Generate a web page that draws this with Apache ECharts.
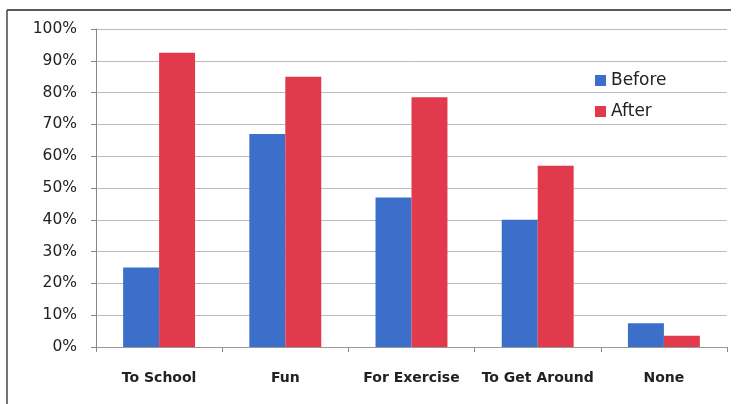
<!DOCTYPE html>
<html><head><meta charset="utf-8">
<script src="https://cdn.jsdelivr.net/npm/echarts@6/dist/echarts.min.js"></script>
<style>html,body{margin:0;padding:0;background:#fff}#c{width:736px;height:404px}</style>
</head><body><div id="c"></div>
<script>
const categories = ["To School", "Fun", "For Exercise", "To Get Around", "None"];
const before = [25, 67, 47, 40, 7.5];
const after = [92.5, 85, 78.5, 57, 3.5];
const yTicks = [0, 10, 20, 30, 40, 50, 60, 70, 80, 90, 100];

const chart = echarts.init(document.getElementById('c'));
chart.setOption({
  animation: false,
  graphic: [
    { type: 'line', shape: { x1: 7, y1: 10, x2: 731, y2: 10 }, style: { stroke: '#222', lineWidth: 1.5 } },
    { type: 'line', shape: { x1: 7, y1: 10, x2: 7, y2: 404 }, style: { stroke: '#444', lineWidth: 1.5 } }
  ],
  grid: { left: 96, right: 9, top: 29, bottom: 57 },
  legend: {
    orient: 'vertical', left: 590, top: 67, itemGap: 14,
    itemWidth: 11, itemHeight: 11, icon: 'rect',
    textStyle: { fontFamily: 'DejaVu Sans', fontSize: 17, color: '#222' },
    data: ['Before', 'After']
  },
  xAxis: {
    type: 'category', data: categories,
    axisLine: { lineStyle: { color: '#999' } },
    axisTick: { show: true, interval: 0, lineStyle: { color: '#888' } },
    axisLabel: { interval: 0, hideOverlap: false, fontFamily: 'DejaVu Sans', fontWeight: 'bold', fontSize: 14, color: '#222', margin: 24 }
  },
  yAxis: {
    type: 'value', min: 0, max: 100, interval: 10,
    axisLine: { show: true, lineStyle: { color: '#888' } },
    axisTick: { show: true, lineStyle: { color: '#888' } },
    splitLine: { lineStyle: { color: '#bbb' } },
    axisLabel: {
      fontFamily: 'DejaVu Sans', fontSize: 15.5, color: '#222', margin: 19,
      formatter: v => yTicks.includes(v) ? v + '%' : ''
    }
  },
  series: [
    { name: 'Before', type: 'bar', data: before, barGap: '0%', barCategoryGap: '43%', itemStyle: { color: '#3b6fc9' } },
    { name: 'After', type: 'bar', data: after, barGap: '0%', barCategoryGap: '43%', itemStyle: { color: '#e03a4c' } }
  ]
});
</script></body></html>
